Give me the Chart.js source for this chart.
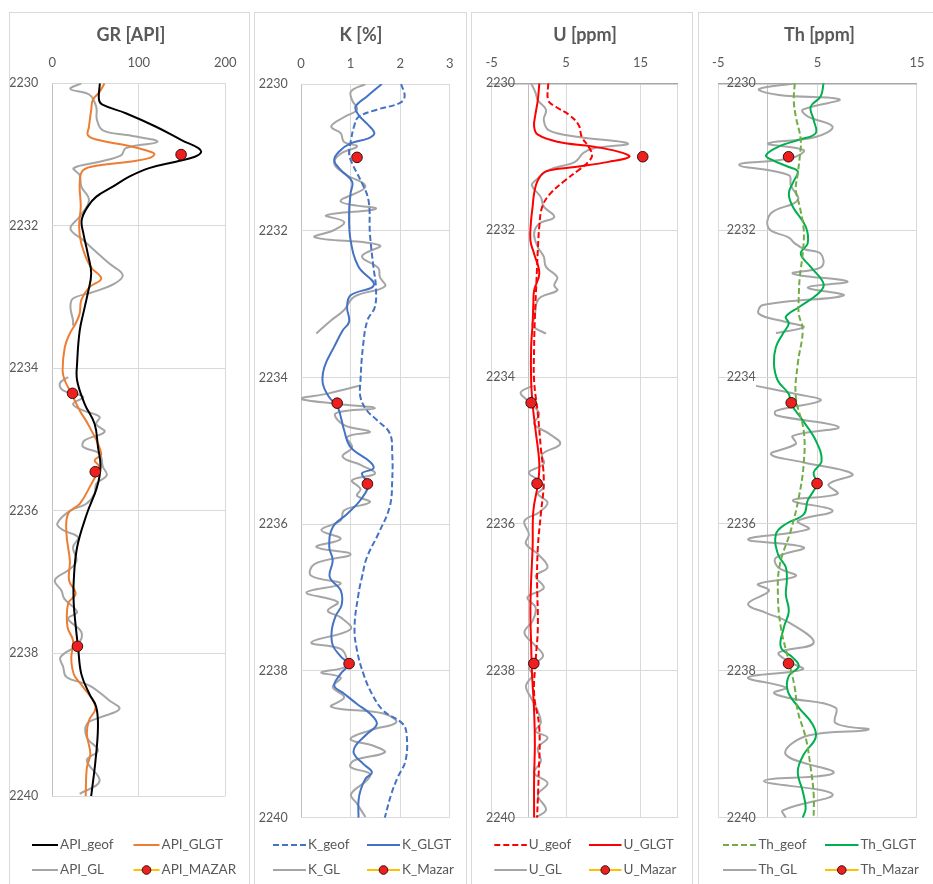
<!DOCTYPE html>
<html>
<head>
<meta charset="utf-8">
<script src="https://cdn.jsdelivr.net/npm/chart.js@4.4.1/dist/chart.umd.min.js"></script>
<style>
  html, body { margin: 0; padding: 0; background: #fff; width: 933px; height: 884px; overflow: hidden; }
  .panel { position: absolute; top: 12px; height: 880px; border: 1px solid #d9d9d9; box-sizing: border-box; background: #fff; }
  .panel canvas { display: block; }
</style>
</head>
<body>
<div class="panel" style="left:9px;width:241px"><canvas id="cGR" width="239" height="870"></canvas></div>
<div class="panel" style="left:254px;width:213px"><canvas id="cK" width="211" height="870"></canvas></div>
<div class="panel" style="left:471px;width:222px"><canvas id="cU" width="220" height="870"></canvas></div>
<div class="panel" style="left:698px;width:240px"><canvas id="cTh" width="238" height="870"></canvas></div>
<script>
// Registro de pozo: 4 pistas (GR, K, U, Th) con profundidad en el eje vertical

// ---------- Datos ----------
const depthTicks = [2230, 2232, 2234, 2236, 2238, 2240];
const mazarDepth = [2231.0, 2234.35, 2235.45, 2237.9];

// GR [API]
const grTicks = [0, 100, 200];
const grGeofDepth = [2230, 2230.23, 2230.3, 2230.42, 2230.61, 2230.8, 2230.91, 2230.97, 2231.03, 2231.1, 2231.19, 2231.31, 2231.45, 2231.59, 2231.73, 2231.92, 2232.11, 2232.39, 2232.67, 2232.95, 2233.14, 2233.47, 2233.93, 2234.17, 2234.5, 2234.78, 2235.1, 2235.38, 2235.67, 2236.04, 2236.51, 2236.98, 2237.3, 2237.63, 2237.91, 2238.29, 2238.57, 2238.75, 2239.04, 2239.5, 2240];
const grGeof = [55, 54, 58, 85, 120, 150, 169, 172, 165, 143, 112, 89, 70, 51, 41, 34, 36, 41, 45, 41, 37.5, 31.7, 28.7, 28.7, 37.5, 49, 52.8, 55.8, 51.6, 40, 28.7, 24.8, 24.8, 27.2, 29.8, 33.6, 43, 50.8, 52.8, 50, 45];
const grGlgtDepth = [2230, 2230.12, 2230.23, 2230.37, 2230.61, 2230.73, 2230.8, 2230.87, 2230.94, 2230.99, 2231.05, 2231.1, 2231.15, 2231.22, 2231.4, 2231.73, 2232.01, 2232.25, 2232.57, 2232.74, 2232.86, 2233.04, 2233.23, 2233.37, 2233.51, 2233.7, 2234.03, 2234.17, 2234.35, 2234.59, 2234.82, 2235.2, 2235.29, 2235.38, 2235.67, 2235.9, 2236.04, 2236.32, 2236.7, 2236.98, 2237.16, 2237.3, 2237.63, 2237.82, 2238.05, 2238.2, 2238.32, 2238.47, 2238.75, 2238.94, 2239.13, 2239.41, 2239.6, 2240];
const grGlgt = [60.4, 54.7, 47, 45, 42.4, 41.3, 54.7, 85, 108, 118, 112, 89, 54.7, 35.6, 31.7, 32.9, 31, 33.6, 44, 56.6, 43, 33.6, 31.7, 27, 20.3, 14.5, 11.9, 14.5, 22, 31.7, 43, 56.6, 49, 54, 43, 31.7, 18.3, 16.4, 20.3, 19.5, 27, 18.3, 17.6, 24, 22, 23, 26, 35.6, 50, 42.4, 40, 44, 40, 38.6];
const grGlDepth = [2230, 2230.08, 2230.16, 2230.33, 2230.51, 2230.66, 2230.73, 2230.82, 2230.91, 2231.01, 2231.1, 2231.19, 2231.29, 2231.45, 2231.64, 2231.87, 2232.04, 2232.2, 2232.53, 2232.69, 2232.81, 2232.93, 2233.02, 2233.14, 2233.33, 2233.4, 2233.75, 2234.12, 2234.21, 2234.31, 2234.4, 2234.5, 2234.59, 2234.68, 2234.78, 2234.89, 2235.01, 2235.1, 2235.2, 2235.38, 2235.5, 2235.62, 2235.76, 2235.9, 2236.0, 2236.18, 2236.27, 2236.37, 2236.51, 2236.7, 2236.82, 2236.97, 2237.12, 2237.23, 2237.42, 2237.51, 2237.7, 2237.87, 2238.05, 2238.19, 2238.33, 2238.45, 2238.66, 2238.78, 2238.9, 2238.99, 2239.18, 2239.36, 2239.5, 2239.79, 2239.97];
const grGl = [33.6, 21, 43, 50.8, 51.6, 58.5, 89, 121.6, 85, 79.5, 54.7, 24.8, 31.7, 33.6, 42.4, 31.7, 21, 35.6, 66, 81.4, 72, 47, 24, 21, 24, 24, null, 18.3, 8.8, 12.6, 35.6, 24, 35.6, 54.7, 50.8, 60.4, 37.5, 35.6, 54.7, 58.5, 63, 50.8, 49, 39.4, 20.3, 5.7, 12.6, 29.8, 24, 28, 20, 3, 10.7, 13.8, 28.7, 18.3, 33.6, 29.8, 9.6, 12.6, 16.4, 43, 66, 77.6, 54.7, 40, 40, 52.8, 40, 54.7, 31.7];
const grMazar = [149, 23.4, 49.7, 29.1];

// K [%]
const kTicks = [0, 1, 2, 3];
const kGeofDepth = [2230, 2230.17, 2230.26, 2230.35, 2230.45, 2230.58, 2230.76, 2230.95, 2231.08, 2231.31, 2231.58, 2232.04, 2232.49, 2232.76, 2233.04, 2233.22, 2233.58, 2234.04, 2234.27, 2234.45, 2234.58, 2234.76, 2235.04, 2235.4, 2235.76, 2236.13, 2236.45, 2236.72, 2236.95, 2237.4, 2237.72, 2238.04, 2238.31, 2238.54, 2238.72, 2238.86, 2239.22, 2239.45, 2239.68, 2240];
const kGeof = [2.02, 2.09, 1.99, 1.53, 1.16, 1.07, 1.01, 0.97, 1.03, 1.2, 1.36, 1.39, 1.46, 1.51, 1.49, 1.34, 1.25, 1.2, 1.2, 1.33, 1.53, 1.79, 1.84, 1.84, 1.79, 1.56, 1.33, 1.23, 1.16, 1.08, 1.13, 1.26, 1.43, 1.66, 2.05, 2.13, 2.11, 1.95, 1.82, 1.69];
const kGlgtDepth = [2230, 2230.17, 2230.31, 2230.42, 2230.54, 2230.67, 2230.74, 2230.81, 2230.92, 2231.04, 2231.17, 2231.33, 2231.49, 2231.76, 2232.13, 2232.49, 2232.74, 2232.88, 2233.04, 2233.24, 2233.36, 2233.58, 2233.86, 2234.08, 2234.27, 2234.4, 2234.72, 2234.95, 2235.15, 2235.24, 2235.31, 2235.46, 2235.67, 2235.86, 2236.04, 2236.31, 2236.49, 2236.72, 2236.9, 2237.1, 2237.25, 2237.45, 2237.65, 2237.8, 2237.91, 2238.04, 2238.2, 2238.31, 2238.45, 2238.58, 2238.72, 2238.86, 2239.02, 2239.13, 2239.27, 2239.38, 2239.47, 2239.63, 2239.77, 2240];
const kGlgt = [1.63, 1.33, 1.1, 1.16, 1.33, 1.48, 1.36, 1.0, 0.77, 0.67, 0.8, 1.03, 1.0, 0.97, 1.0, 1.16, 1.47, 1.0, 0.93, 0.97, 0.84, 0.67, 0.47, 0.44, 0.57, 0.74, 0.87, 1.0, 1.39, 1.46, 1.23, 1.36, 1.2, 0.93, 0.64, 0.57, 0.64, 0.58, 0.8, 0.82, 0.7, 0.62, 0.64, 0.8, 0.95, 0.8, 0.67, 0.87, 1.13, 1.39, 1.53, 1.33, 1.1, 1.07, 1.26, 1.43, 1.3, 1.2, 1.16, 1.16];
const kGlDepth = [2230, 2230.1, 2230.22, 2230.35, 2230.45, 2230.58, 2230.67, 2230.79, 2230.85, 2230.95, 2231.08, 2231.22, 2231.4, 2231.6, 2231.7, 2231.79, 2231.88, 2231.99, 2232.09, 2232.2, 2232.35, 2232.51, 2232.63, 2232.76, 2232.9, 2233.08, 2233.22, 2233.4, 2233.75, 2234.11, 2234.22, 2234.29, 2234.36, 2234.42, 2234.49, 2234.65, 2234.74, 2234.81, 2234.95, 2235.08, 2235.2, 2235.31, 2235.4, 2235.52, 2235.61, 2235.7, 2235.81, 2235.95, 2236.08, 2236.2, 2236.31, 2236.41, 2236.54, 2236.7, 2236.81, 2236.93, 2237.06, 2237.18, 2237.27, 2237.43, 2237.61, 2237.7, 2237.86, 2237.95, 2238.02, 2238.09, 2238.22, 2238.36, 2238.49, 2238.58, 2238.7, 2238.81, 2238.93, 2239.02, 2239.11, 2239.22, 2239.31, 2239.4, 2239.49, 2239.68, 2239.81, 2239.99];
const kGl = [1.3, 1.01, 1.03, 1.13, 0.87, 0.61, 0.8, 0.87, 1.13, 0.8, 0.67, 0.87, 1.3, 0.8, 1.51, 0.51, 0.87, 0.67, 0.28, 1.59, 1.23, 1.56, 1.59, 1.69, 1.07, 0.87, 0.61, 0.31, null, 1.2, 0.54, 0.01, 0.74, 1.49, 0.7, 0.87, 1.39, 0.93, 1.03, 0.84, 1.23, 1.49, 1.03, 1.2, 1.13, 1.39, 0.87, 0.8, 0.41, 0.8, 0.31, 1.0, 0.28, 0.2, 0.8, 0.11, 0.74, 0.54, 0.8, 1.0, 0.21, 0.8, 0.93, 0.87, 0.41, 0.8, 0.64, 0.87, 0.61, 1.66, 1.92, 1.39, 1.0, 1.46, 1.69, 1.07, 1.0, 1.39, 1.33, 1.01, 1.13, 1.3];
const kMazar = [1.13, 0.73, 1.34, 0.97];

// U [ppm]
const uTicks = [-5, 5, 15];
const uGeofDepth = [2230, 2230.23, 2230.32, 2230.43, 2230.57, 2230.73, 2230.86, 2230.98, 2231.07, 2231.18, 2231.32, 2231.5, 2231.68, 2231.95, 2232.27, 2232.73, 2233.2, 2233.59, 2234.05, 2234.5, 2234.96, 2235.41, 2235.87, 2236.32, 2236.77, 2237.41, 2237.87, 2238.32, 2238.78, 2239.46, 2240];
const uGeof = [2.6, 2.6, 3.6, 5.4, 6.7, 7.1, 8.0, 8.5, 8.0, 6.7, 4.9, 2.9, 1.8, 1.4, 1.2, 1.0, 0.8, 0.7, 0.7, 1.2, 1.6, 2.0, 1.6, 1.2, 1.1, 1.2, 0.9, 0.7, 1.4, 1.3, 1.1];
const uGlgtDepth = [2230, 2230.23, 2230.41, 2230.59, 2230.7, 2230.8, 2230.86, 2230.93, 2231.0, 2231.07, 2231.14, 2231.2, 2231.32, 2231.5, 2231.68, 2231.86, 2232.14, 2232.32, 2232.59, 2232.82, 2233.0, 2233.27, 2233.59, 2234.05, 2234.37, 2234.73, 2235.18, 2235.46, 2235.82, 2236.32, 2236.77, 2237.2, 2237.64, 2238.0, 2238.55, 2239.0, 2239.46, 2240];
const uGlgt = [1.4, 1.2, 0.9, 0.7, 1.2, 4.0, 8.5, 12, 13.5, 10.7, 6.2, 2.3, 1.2, 0.7, 0.5, 0.3, 0.2, 0.7, 1.4, 0.7, 0.6, 0.5, 0.3, 0.3, 0.5, 0.9, 1.4, 1.2, 0.6, 0.5, 0.3, 0.2, 0.3, 0.4, 0.7, 0.8, 0.7, 0.7];
const uGlDepth = [2230, 2230.13, 2230.23, 2230.36, 2230.5, 2230.64, 2230.73, 2230.82, 2230.89, 2230.95, 2231.07, 2231.18, 2231.32, 2231.39, 2231.55, 2231.68, 2231.82, 2231.91, 2232.05, 2232.23, 2232.36, 2232.5, 2232.64, 2232.75, 2232.82, 2232.91, 2233.0, 2233.18, 2233.3, 2233.41, 2233.75, 2234.12, 2234.21, 2234.32, 2234.5, 2234.64, 2234.77, 2234.91, 2235.05, 2235.18, 2235.3, 2235.41, 2235.5, 2235.59, 2235.71, 2235.84, 2235.96, 2236.14, 2236.27, 2236.41, 2236.59, 2236.71, 2236.87, 2237.0, 2237.14, 2237.32, 2237.48, 2237.64, 2237.8, 2237.96, 2238.05, 2238.21, 2238.37, 2238.55, 2238.71, 2238.82, 2238.91, 2239.05, 2239.23, 2239.39, 2239.53, 2239.69, 2239.89, 2240];
const uGl = [0.3, 0.9, 1.2, 2.3, 2.0, 2.7, 6.7, 13.3, 8.5, 7.3, 6.2, 2.7, 0.9, 0.4, 1.6, 2.0, 3.4, 1.4, 0.7, 1.2, 2.0, 2.3, 3.8, 3.4, 3.8, 1.6, 1.0, 0.8, 0.5, 2.3, null, 0.5, -1.1, -0.2, 1.4, 0.7, 2.7, 4.2, 1.8, 2.0, 0, 1.4, 2.0, 1.2, 2.5, 1.4, -0.6, 0, -0.4, 1.2, 2.5, 0.9, 2.0, -0.2, 0.9, 0.5, -0.6, 0.7, 1.9, 0, 0.5, -0.4, 0.3, 1.2, 1.6, 0.9, 2.5, 1.2, 1.6, 0.7, 2.5, 1.2, 2.3, 0.9];
const uMazar = [15.3, 0.3, 1.1, 0.66];

// Th [ppm]
const thTicks = [-5, 5, 15];
const thGeofDepth = [2230, 2230.23, 2230.45, 2230.77, 2231.0, 2231.23, 2231.45, 2231.68, 2232.0, 2232.32, 2232.64, 2232.91, 2233.14, 2233.36, 2233.82, 2234.27, 2234.73, 2235.18, 2235.64, 2236.09, 2236.55, 2236.96, 2237.41, 2237.87, 2238.23, 2238.55, 2238.91, 2239.32, 2239.68, 2240];
const thGeof = [2.7, 2.6, 2.8, 3.3, 3.2, 3.0, 2.8, 3.2, 3.6, 3.5, 3.2, 3.1, 3.1, 3.5, 3.0, 2.8, 3.6, 3.6, 3.1, 2.3, 1.2, 1.0, 1.3, 2.1, 2.7, 3.0, 3.8, 4.3, 4.6, 4.6];
const thGlgtDepth = [2230, 2230.18, 2230.32, 2230.5, 2230.68, 2230.77, 2230.86, 2230.98, 2231.05, 2231.14, 2231.2, 2231.33, 2231.5, 2231.68, 2231.95, 2232.18, 2232.32, 2232.5, 2232.73, 2232.86, 2233.05, 2233.18, 2233.27, 2233.41, 2233.59, 2233.82, 2234.05, 2234.23, 2234.36, 2234.59, 2234.86, 2235.14, 2235.3, 2235.46, 2235.68, 2235.87, 2236.0, 2236.14, 2236.41, 2236.59, 2236.77, 2236.96, 2237.19, 2237.41, 2237.68, 2237.82, 2237.94, 2238.07, 2238.28, 2238.5, 2238.73, 2238.91, 2239.14, 2239.37, 2239.64, 2239.87, 2240];
const thGlgt = [5.6, 5.3, 4.3, 4.6, 4.8, 3.1, 1.1, -0.2, 0.5, 2.1, 3.0, 2.6, 2.1, 2.5, 3.8, 4.0, 3.3, 4.3, 5.6, 5.1, 3.1, 1.8, 2.1, 1.5, 0.8, 0.6, 1.0, 2.1, 2.3, 3.5, 4.8, 5.4, 4.6, 4.9, 4.0, 3.6, 1.8, 0.8, 1.0, 1.8, 1.9, 1.8, 2.1, 1.6, 1.3, 2.5, 3.1, 2.1, 2.0, 3.1, 4.5, 4.8, 3.6, 3.0, 3.5, 3.8, 3.5];
const thGlDepth = [2230, 2230.08, 2230.16, 2230.22, 2230.36, 2230.45, 2230.59, 2230.73, 2230.82, 2230.91, 2231.02, 2231.11, 2231.25, 2231.39, 2231.59, 2231.77, 2231.98, 2232.1, 2232.18, 2232.26, 2232.32, 2232.5, 2232.59, 2232.7, 2232.78, 2232.89, 2233.02, 2233.14, 2233.25, 2233.32, 2233.4, 2233.75, 2234.12, 2234.23, 2234.32, 2234.46, 2234.52, 2234.68, 2234.8, 2234.91, 2235.05, 2235.16, 2235.32, 2235.46, 2235.59, 2235.68, 2235.82, 2235.96, 2236.07, 2236.21, 2236.32, 2236.46, 2236.59, 2236.71, 2236.82, 2236.91, 2237.09, 2237.21, 2237.34, 2237.62, 2237.75, 2237.87, 2237.98, 2238.09, 2238.23, 2238.3, 2238.37, 2238.5, 2238.71, 2238.8, 2238.89, 2239.14, 2239.39, 2239.5, 2239.68, 2239.9, 2240];
const thGl = [2.8, -0.9, 1.1, 7.2, 3.5, 4.0, 6.5, 4.8, 0, 3.6, 2.3, -2.9, 2.1, 2.3, 3.0, 0.3, 0.1, 2.1, 2.7, 3.7, 5.3, 5.4, 2.5, 8.0, 4.0, 7.6, -0.5, -0.9, 1.8, 3.6, 0.8, null, -1.2, 2.8, 5.3, 0.8, 0.8, 7.1, 2.5, 2.8, 0.3, 3.5, 8.5, 6.1, 7.0, 2.5, 6.5, 3.0, 4.1, -2.0, 3.6, 0.8, 1.0, 2.8, -1.0, 0.1, -2.0, -0.2, 2.1, 4.6, 1.1, 2.0, 3.5, -2.0, 1.8, 0.6, 2.1, 6.8, 6.8, 10.1, 3.8, 1.8, 6.6, -0.4, 6.5, 1.5, 1.8];
const thMazar = [2.07, 2.34, 4.94, 2.07];

// ---------- Estilo ----------
Chart.defaults.font.family = 'Lato, "Open Sans", sans-serif';
const TXT = '#595959';
const GRID = '#d9d9d9';
const AXIS = '#bfbfbf';
const GRAY = '#a5a5a5';

function pts(depths, vals) {
    return depths.map((d, i) => ({ x: vals[i], y: d }));
}

function curve(label, depths, vals, color, dashed, order) {
    return {
        label, data: pts(depths, vals), order,
        borderColor: color, backgroundColor: color, borderWidth: 2,
        borderDash: dashed ? [6, 3] : [], pointRadius: 0, pointHitRadius: 0,
        tension: 0.4, spanGaps: false
    };
}

function markers(label, vals) {
    return {
        label, data: pts(mazarDepth, vals), order: 0, showLine: false,
        borderColor: '#FFC000', backgroundColor: '#FFC000',
        pointRadius: 5.3, pointBackgroundColor: '#EE1F1F', pointBorderColor: '#3b0d0d', pointBorderWidth: 1
    };
}

// Centra el título en una x dada (el título de Excel no se centra en el área del gráfico)
const titleCenter = {
    id: 'titleCenter',
    afterLayout(chart, args, o) {
        const t = chart.titleBlock;
        if (!t) return;
        const w = t.right - t.left;
        t.left = o.x - w / 2;
        t.right = o.x + w / 2;
    }
};

// Leyenda en rejilla 2x2 como la de Excel
const logLegend = {
    id: 'logLegend',
    afterDraw(chart, args, o) {
        const ctx = chart.ctx;
        ctx.save();
        ctx.font = '13.5px Lato, "Open Sans", sans-serif';
        ctx.textBaseline = 'middle';
        chart.data.datasets.forEach((ds, i) => {
            const x = o.cols[i % 2];
            const y = o.rows[Math.floor(i / 2)];
            ctx.strokeStyle = ds.borderColor;
            ctx.lineWidth = 2;
            ctx.setLineDash(ds.borderDash || []);
            ctx.beginPath();
            ctx.moveTo(x, y);
            ctx.lineTo(x + o.len, y);
            ctx.stroke();
            ctx.setLineDash([]);
            if (ds.showLine === false) {
                ctx.beginPath();
                ctx.arc(x + o.len / 2, y, 4.3, 0, Math.PI * 2);
                ctx.fillStyle = ds.pointBackgroundColor;
                ctx.fill();
                ctx.lineWidth = 1;
                ctx.strokeStyle = ds.pointBorderColor;
                ctx.stroke();
            }
            ctx.fillStyle = TXT;
            ctx.fillText(ds.label, x + o.len + 2, y);
        });
        ctx.restore();
    }
};

function makeLog(id, p, datasets) {
    const H = 870;
    new Chart(document.getElementById(id), {
        type: 'line',
        data: { datasets },
        options: {
            indexAxis: 'y',
            responsive: false,
            animation: false,
            events: [],
            layout: { padding: { left: 0, top: 0, right: p.w - p.right, bottom: H - p.bottom } },
            plugins: {
                legend: { display: false },
                tooltip: { enabled: false },
                title: { display: true, text: p.title, color: TXT, font: { size: 18, weight: 'bold', lineHeight: 1.2 }, padding: { top: 11.7, bottom: 4 } },
                titleCenter: { x: p.titleX },
                logLegend: { cols: p.cols, rows: [832, 857], len: p.len }
            },
            scales: {
                x: {
                    type: 'linear', position: 'top', min: p.xMin, max: p.xMax,
                    afterBuildTicks: (s) => { s.ticks = p.xGrid.map((v) => ({ value: v })); },
                    afterFit: (s) => { s.height = p.top - 37.3; },
                    ticks: { autoSkip: false, maxRotation: 0, padding: 12.5, color: TXT, font: { size: 13 }, callback: (v) => (p.xTicks.includes(v) ? String(v) : '') },
                    grid: { drawTicks: false, color: (c) => (c.tick && c.tick.value === 0 ? AXIS : GRID) },
                    border: { display: true, color: p.topColor, width: p.topWidth }
                },
                y: {
                    type: 'linear', reverse: true, min: depthTicks[0], max: depthTicks[depthTicks.length - 1],
                    afterBuildTicks: (s) => { s.ticks = depthTicks.map((v) => ({ value: v })); },
                    afterFit: (s) => {
                        s.width = p.left;
                        // las etiquetas de U y Th caen dentro del área del gráfico: no recortarlas
                        s._computeLabelArea = () => null;
                    },
                    ticks: { autoSkip: false, padding: p.yPad, color: TXT, font: { size: 12.5 }, callback: (v) => String(v) },
                    grid: { drawTicks: false, color: GRID },
                    border: { display: false }
                }
            }
        },
        plugins: [titleCenter, logLegend]
    });
}

// ---------- Pistas ----------
makeLog('cGR', {
    title: 'GR [API]', xMin: 0, xMax: 200, xTicks: grTicks, xGrid: grTicks,
    w: 239, left: 42.3, right: 216.7, top: 70.3, bottom: 783, yPad: 14, titleX: 121,
    cols: [22, 123.5], len: 26, topColor: GRID, topWidth: 1
}, [
    curve('API_geof', grGeofDepth, grGeof, '#000000', false, 1),
    curve('API_GLGT', grGlgtDepth, grGlgt, '#ED7D31', false, 2),
    curve('API_GL', grGlDepth, grGl, GRAY, false, 3),
    markers('API_MAZAR', grMazar)
]);

makeLog('cK', {
    title: 'K [%]', xMin: 0, xMax: 3, xTicks: kTicks, xGrid: kTicks,
    w: 211, left: 46, right: 198.3, top: 71, bottom: 804.7, yPad: 13.3, titleX: 106,
    cols: [18, 112], len: 33, topColor: GRID, topWidth: 1
}, [
    curve('K_geof', kGeofDepth, kGeof, '#4472C4', true, 1),
    curve('K_GLGT', kGlgtDepth, kGlgt, '#4472C4', false, 2),
    curve('K_GL', kGlDepth, kGl, GRAY, false, 3),
    markers('K_Mazar', kMazar)
]);

makeLog('cU', {
    title: 'U [ppm]', xMin: -5, xMax: 20, xTicks: uTicks, xGrid: [-5, 0, 5, 15, 20],
    w: 220, left: 19.7, right: 205.7, top: 70.3, bottom: 804.7, yPad: -23.3, titleX: 113,
    cols: [22.3, 117], len: 32.5, topColor: '#a6a6a6', topWidth: 1.5
}, [
    curve('U_geof', uGeofDepth, uGeof, '#FF0000', true, 1),
    curve('U_GLGT', uGlgtDepth, uGlgt, '#FF0000', false, 2),
    curve('U_GL', uGlDepth, uGl, GRAY, false, 3),
    markers('U_Mazar', uMazar)
]);

makeLog('cTh', {
    title: 'Th [ppm]', xMin: -5, xMax: 15, xTicks: thTicks, xGrid: [-5, 0, 5, 15],
    w: 238, left: 19.3, right: 220.3, top: 70.3, bottom: 804.7, yPad: -37.4, titleX: 120.5,
    cols: [24, 126], len: 33.5, topColor: '#a6a6a6', topWidth: 1.5
}, [
    curve('Th_geof', thGeofDepth, thGeof, '#70AD47', true, 1),
    curve('Th_GLGT', thGlgtDepth, thGlgt, '#00B050', false, 2),
    curve('Th_GL', thGlDepth, thGl, GRAY, false, 3),
    markers('Th_Mazar', thMazar)
]);
</script>
</body>
</html>
